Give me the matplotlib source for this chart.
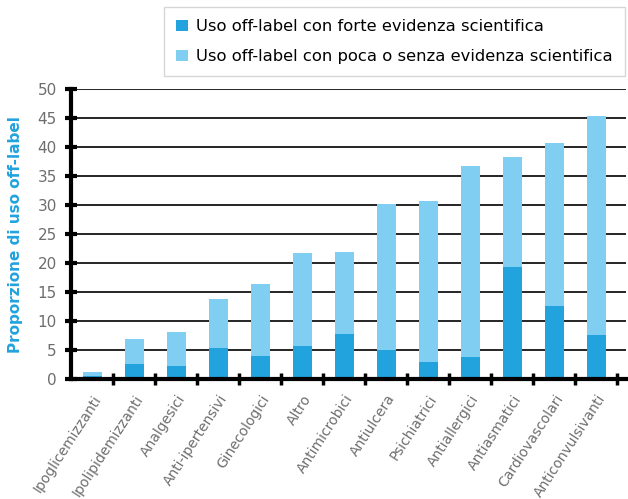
import matplotlib
matplotlib.use("Agg")
import matplotlib.pyplot as plt
import matplotlib.transforms as mtransforms
import numpy as np
from matplotlib.patches import Patch

categories = ["Ipoglicemizzanti", "Ipolipidemizzanti", "Analgesici", "Anti-ipertensivi",
              "Ginecologici", "Altro", "Antimicrobici", "Antiulcera", "Psichiatrici",
              "Antiallergici", "Antiasmatici", "Cardiovascolari", "Anticonvulsivanti"]
forte = [0.5, 2.6, 2.3, 5.4, 4.0, 5.7, 7.8, 5.0, 3.0, 3.9, 19.4, 12.6, 7.6]
totale = [1.2, 7.0, 8.2, 13.9, 16.4, 21.8, 22.0, 30.2, 30.7, 36.8, 38.3, 40.7, 45.4]
poca = [t - f for t, f in zip(totale, forte)]
yticks = list(range(0, 55, 5))

dark = "#22a3de"
light = "#81cef3"
gray = "#6e6e6e"

plt.rcParams['font.family'] = ['DejaVu Sans']

fig = plt.figure(figsize=(6.28, 4.99), dpi=100)
W, H = 628, 499
x0, x1 = 71.3, 626
yb, yt = 379.3, 89.3
ax = fig.add_axes([x0 / W, 1 - yb / H, (x1 - x0) / W, (yb - yt) / H])

x = np.arange(len(categories))
ax.bar(x, forte, width=0.45, color=dark, zorder=3)
ax.bar(x, poca, width=0.45, bottom=forte, color=light, zorder=3)

ax.set_xlim(-0.5, (x1 - x0) / 42 - 0.5)
ax.set_ylim(0, 50)

for v in yticks[1:]:
    ax.axhline(v, color="black", lw=1.2, zorder=1)

for s in ["top", "right"]:
    ax.spines[s].set_visible(False)
ax.spines["left"].set_linewidth(3)
ax.spines["bottom"].set_linewidth(3)
ax.spines["left"].set_zorder(4)
ax.spines["bottom"].set_zorder(4)

ax.set_yticks(yticks)
ax.set_yticklabels([str(v) for v in yticks], color=gray, fontsize=11)
ax.tick_params(axis="y", direction="inout", length=9, width=3, pad=6)

ax.set_xticks(x)
ax.set_xticklabels(categories, rotation=57, ha="right", va="center",
                   rotation_mode="anchor", color=gray, fontsize=10)
ax.tick_params(axis="x", which="major", length=0, pad=12)
offset = mtransforms.ScaledTranslation(6 / 100, 0, fig.dpi_scale_trans)
for lab in ax.get_xticklabels():
    lab.set_transform(lab.get_transform() + offset)
ax.set_xticks(np.arange(0.5, len(categories), 1.0), minor=True)
ax.tick_params(axis="x", which="minor", direction="inout", length=9, width=2.5)

ax.set_ylabel("Proporzione di uso off-label", color=dark, fontweight="bold",
              fontsize=11, labelpad=10)

handles = [Patch(facecolor=dark, edgecolor="none"), Patch(facecolor=light, edgecolor="none")]
labels = ["Uso off-label con forte evidenza scientifica",
          "Uso off-label con poca o senza evidenza scientifica"]
leg = fig.legend(handles, labels, loc="upper right", bbox_to_anchor=(625 / W, 1 - 7 / H),
                 borderaxespad=0, fontsize=11.8, frameon=True, fancybox=False,
                 edgecolor="#cccccc", handlelength=0.7, handleheight=0.7,
                 handletextpad=0.5, borderpad=0.75, labelspacing=0.9)
leg.get_frame().set_linewidth(1.0)

fig.savefig("out.png", dpi=100)
